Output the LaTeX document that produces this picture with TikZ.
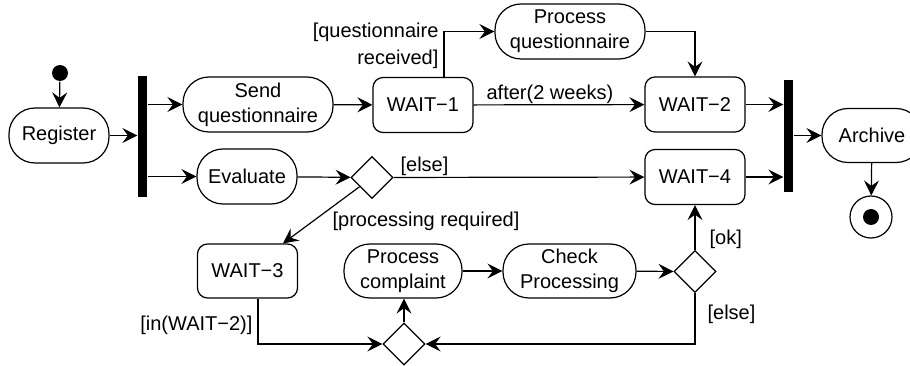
\documentclass[tikz,border=0pt]{standalone}
\usepackage{fontspec}
\setmainfont{Liberation Sans}
\usetikzlibrary{arrows.meta,shapes.geometric,calc}
\begin{document}
\begin{tikzpicture}[x=1pt,y=-1pt, line width=1.2pt,
  every node/.style={font=\fontsize{20}{25}\selectfont},
  act/.style={draw, rectangle, rounded corners=26pt, minimum height=55pt, align=center, inner sep=0pt},
  waitbox/.style={draw, rectangle, rounded corners=10pt, minimum width=100pt, minimum height=55pt, inner sep=0pt},
  dec/.style={draw, diamond, minimum width=42pt, minimum height=42pt, inner sep=0pt},
  bar/.style={fill=black, minimum width=9pt, inner sep=0pt, draw=none, rectangle},
  lbl/.style={inner sep=0pt},
  >={Stealth[length=15pt,width=15pt,inset=5.5pt]}]
\useasboundingbox (0,0) rectangle (910,366);
\clip (0,0) rectangle (910,366);
% nodes
\node[circle, fill=black, minimum size=16pt, inner sep=0pt] (init) at (60,73) {};
\node[act, minimum width=100pt] (reg) at (59,135.5) {Register};
\node[bar, minimum height=121pt] (f1) at (142.5,136.5) {};
\node[act, minimum width=150pt] (send) at (258,104.5) {Send\\questionnaire};
\node[act, minimum width=100pt] (eval) at (247,176.5) {Evaluate};
\node[waitbox] (w1) at (423,105) {WAIT−1};
\node[act, minimum width=150pt] (procq) at (570,31.5) {Process\\questionnaire};
\node[waitbox] (w2) at (695,104.5) {WAIT−2};
\node[dec] (d1) at (372,177.5) {};
\node[waitbox] (w4) at (695,177) {WAIT−4};
\node[waitbox, minimum height=54pt] (w3) at (247.5,271) {WAIT−3};
\node[act, minimum width=118pt, minimum height=54pt] (procc) at (403,271) {Process\\complaint};
\node[act, minimum width=133pt, minimum height=54pt] (check) at (569.5,271) {Check\\Processing};
\node[dec] (d2) at (695,271.5) {};
\node[dec] (d3) at (404,344) {};
\node[bar, minimum height=112pt] (f2) at (788.5,136) {};
\node[act, minimum width=100pt, minimum height=54pt] (arch) at (872,135.5) {Archive};
\node[circle, draw, minimum size=42pt, inner sep=0pt] (fin) at (871,217) {};
\node[circle, fill=black, minimum size=16pt, inner sep=0pt] (findot) at (fin) {};
% connectors
\draw[->] (init) -- (reg);
\draw[->] (reg) -- (reg -| f1.west);
\draw[->] (f1.east |- send) -- (send);
\draw[->] (f1.east |- eval) -- (eval);
\draw[->] (send) -- (w1);
\draw[->] ($(w1.north)+(21,0)$) |- (procq.west);
\node[lbl, anchor=east, align=right, font=\fontsize{20}{27}\selectfont] (lq) at (439,46) {[questionnaire\\received]};
\draw[->] (w1) -- (w2);
\node[lbl, anchor=base west] (la) at (486,100) {after(2 weeks)};
\draw[->] (procq.east) -| (w2.north);
\draw[->] (w2) -- (w2 -| f2.west);
\draw[->] (w4) -- (w4 -| f2.west);
\draw[->] (f2.east |- arch) -- (arch);
\draw[->] (arch) -- (fin);
\draw[->] (eval) -- (d1);
\draw[->] (d1) -- (w4);
\node[lbl, anchor=base west] (le1) at (400,172) {[else]};
\draw[->] (d1) -- ($(w3.north)+(35.5,0)$);
\node[lbl, anchor=base west] (lp) at (332,226) {[processing required]};
\draw[->] ($(w3.south)+(10.5,0)$) |- (d3.west);
\node[lbl, anchor=base east] (li) at (253,330) {[in(WAIT−2)]};
\draw[->] (d3.north) -- (d3.north |- procc.south);
\draw[->] (procc) -- (check);
\draw[->] (check) -- (d2);
\draw[->] (d2) -- (w4);
\node[lbl, anchor=base west] (lok) at (709,244) {[ok]};
\draw[->] (d2.south) |- (d3.east);
\node[lbl, anchor=base west] (le2) at (707,319) {[else]};
\end{tikzpicture}
\end{document}
